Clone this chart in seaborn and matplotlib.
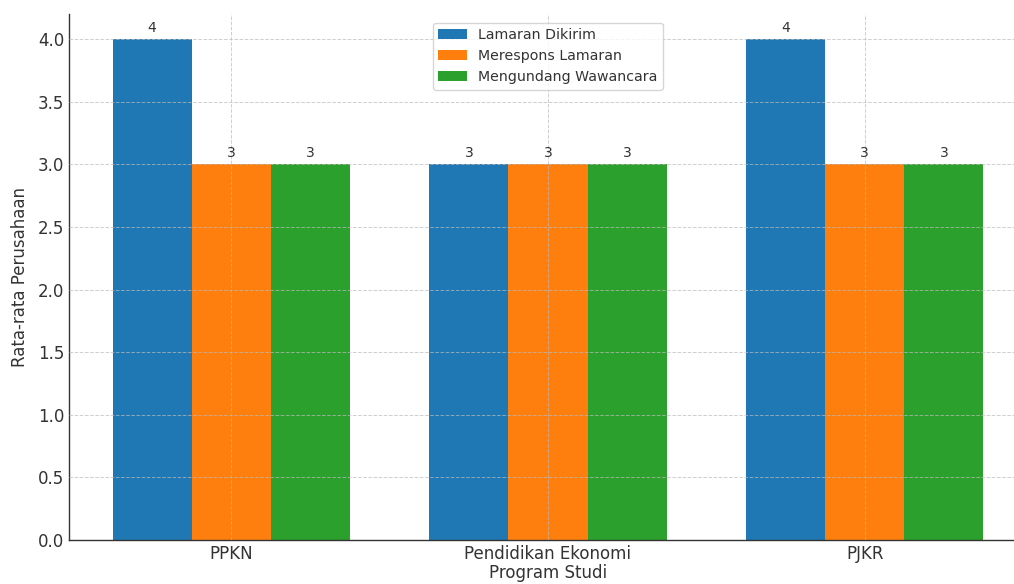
import matplotlib
matplotlib.use("Agg")
import matplotlib.pyplot as plt
import seaborn as sns
import pandas as pd

programs = ["PPKN", "Pendidikan Ekonomi", "PJKR"]
series = ["Lamaran Dikirim", "Merespons Lamaran", "Mengundang Wawancara"]
lamaran_dikirim = [4, 3, 4]
merespons_lamaran = [3, 3, 3]
mengundang_wawancara = [3, 3, 3]
colors = ["#1f77b4", "#ff7f0e", "#2ca02c"]

rows = []
for name, vals in zip(series, [lamaran_dikirim, merespons_lamaran, mengundang_wawancara]):
    for p, v in zip(programs, vals):
        rows.append({"Program Studi": p, "Kategori": name, "Nilai": v})
df = pd.DataFrame(rows)

sns.set_theme(style="white")
plt.rcParams["font.family"] = ["DejaVu Sans"]
text_color = "#333333"

fig = plt.figure(figsize=(10.14, 5.84), dpi=100)
ax = fig.add_axes([69 / 1014, 44 / 584, (1027 - 69) / 1014, (540 - 14) / 584])

sns.barplot(data=df, x="Program Studi", y="Nilai", hue="Kategori",
            order=programs, hue_order=series, palette=colors,
            width=0.75, errorbar=None, saturation=1, linewidth=0, ax=ax)

for cont in ax.containers:
    ax.bar_label(cont, fmt="%d", padding=3, fontsize=10, color=text_color)

ax.set_ylim(0, 4.2)
ax.set_xlim(-0.5125, 2.5125)
ax.set_xlabel("Program Studi", fontsize=12, color=text_color, labelpad=1)
ax.set_ylabel("Rata-rata Perusahaan", fontsize=12, color=text_color, labelpad=6)
ax.tick_params(axis="both", direction="in", labelsize=12, labelcolor=text_color,
               length=4, width=0.8, color=text_color)
ax.set_yticks([0, 0.5, 1.0, 1.5, 2.0, 2.5, 3.0, 3.5, 4.0])
ax.set_yticklabels([f"{t:.1f}" for t in ax.get_yticks()])

ax.grid(True, linestyle="--", color="#bbbbbb", linewidth=0.7, alpha=0.7)
ax.set_axisbelow(False)
for s in ["top", "right"]:
    ax.spines[s].set_visible(False)
for s in ["left", "bottom"]:
    ax.spines[s].set_color(text_color)
    ax.spines[s].set_linewidth(1.0)

leg = ax.legend(loc="upper center", fontsize=10.2, frameon=True, title=None,
                borderaxespad=0.6)
leg.get_frame().set_edgecolor("#cccccc")
for t in leg.get_texts():
    t.set_color(text_color)

fig.savefig("out.png", dpi=100)
